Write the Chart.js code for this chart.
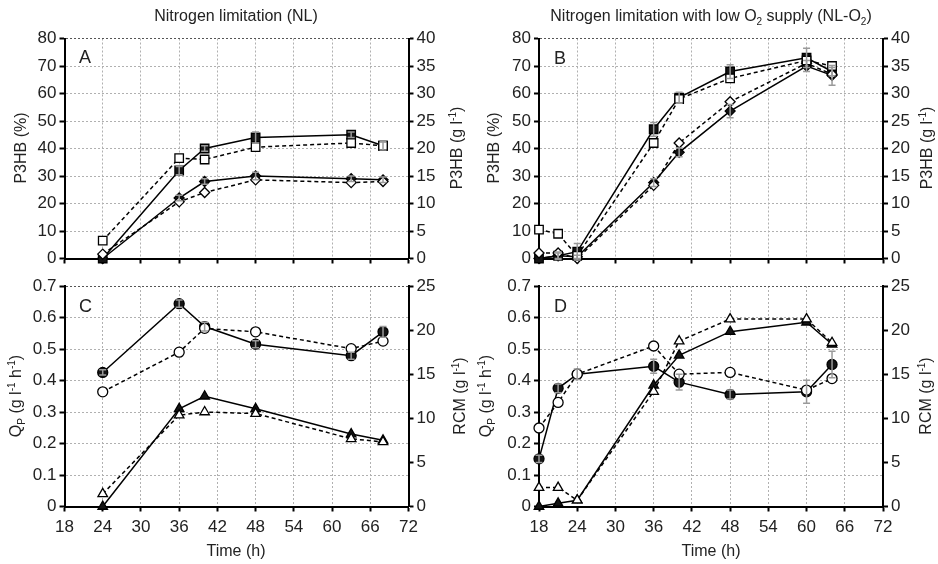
<!DOCTYPE html>
<html>
<head>
<meta charset="UTF-8" />
<title>P3HB production</title>
<script src="https://cdn.jsdelivr.net/npm/chart.js"></script>
<style>
  body { margin: 0; width: 938px; height: 564px; position: relative; background: #fff; overflow: hidden;
         font-family: "Liberation Sans", Arial, sans-serif; color: #222; }
  canvas { position: absolute; }
  .lbl { position: absolute; white-space: nowrap; font-size: 16px; line-height: 18px; transform: translate(-50%, -50%); }
  .rot { transform: translate(-50%, -50%) rotate(-90deg); }
  .tag { position: absolute; font-size: 18px; transform: translate(0, -50%); }
  sub, sup { font-size: 10px; line-height: 0; }
</style>
</head>
<body>
<canvas id="chartA" width="469" height="272" style="left:0;top:0"></canvas>
<canvas id="chartB" width="469" height="272" style="left:469px;top:0"></canvas>
<canvas id="chartC" width="469" height="292" style="left:0;top:272px"></canvas>
<canvas id="chartD" width="469" height="292" style="left:469px;top:272px"></canvas>

<div class="lbl" style="left:236px;top:16px">Nitrogen limitation (NL)</div>
<div class="lbl" style="left:711px;top:16px">Nitrogen limitation with low O<sub>2</sub> supply (NL-O<sub>2</sub>)</div>

<div class="lbl rot" style="left:21px;top:148px">P3HB (%)</div>
<div class="lbl rot" style="left:457px;top:148px">P3HB (g l<sup>-1</sup>)</div>
<div class="lbl rot" style="left:494px;top:148px">P3HB (%)</div>
<div class="lbl rot" style="left:927px;top:148px">P3HB (g l<sup>-1</sup>)</div>
<div class="lbl rot" style="left:16px;top:396px">Q<sub>P</sub> (g l<sup>-1</sup> h<sup>-1</sup>)</div>
<div class="lbl rot" style="left:460px;top:396px">RCM (g l<sup>-1</sup>)</div>
<div class="lbl rot" style="left:486px;top:396px">Q<sub>P</sub> (g l<sup>-1</sup> h<sup>-1</sup>)</div>
<div class="lbl rot" style="left:926px;top:396px">RCM (g l<sup>-1</sup>)</div>

<div class="lbl" style="left:236px;top:551px">Time (h)</div>
<div class="lbl" style="left:711px;top:551px">Time (h)</div>

<div class="tag" style="left:79px;top:57px">A</div>
<div class="tag" style="left:554px;top:58px">B</div>
<div class="tag" style="left:79px;top:306px">C</div>
<div class="tag" style="left:554px;top:306px">D</div>

<script>
  // sampling times (h)
  const timeNL = [24, 36, 40, 48, 63, 68];
  const timeLowO2 = [18, 21, 24, 36, 40, 48, 60, 64];

  // A: nitrogen limitation, P3HB content (%) and concentration (g/l)
  const nlContentFilled = [0, 32, 40, 44, 45, 41];
  const nlContentOpen = [6.5, 36.5, 36, 40.5, 42, 41];
  const nlContentErr = [0, 1.5, 1, 2, 1, 1.5];
  const nlConcFilled = [0, 11, 14, 15, 14.5, 14.3];
  const nlConcOpen = [0.8, 10.3, 12, 14.3, 13.8, 14];
  const nlConcErr = [0, 0.5, 0.5, 0.7, 0.5, 0.5];

  // B: nitrogen limitation with low O2 supply
  const o2ContentFilled = [0, 1, 2.5, 47, 58.5, 68, 73, 68];
  const o2ContentOpen = [10.5, 9, 1, 42, 58, 65.5, 72, 70];
  const o2ContentErr = [0, 1, 3, 2.5, 2, 2.5, 3.5, 1.5];
  const o2ConcFilled = [0, 0.5, 0.3, 13.8, 19.3, 26.8, 35, 33.3];
  const o2ConcOpen = [1, 1, 0, 13.3, 21, 28.5, 35.5, 33.5];
  const o2ConcErr = [0, 0.7, 0.3, 0.7, 0.8, 1.2, 1, 1.8];

  // C: nitrogen limitation, Qp (g/l/h) and RCM (g/l)
  const nlQpFilled = [0, 0.31, 0.35, 0.31, 0.23, 0.21];
  const nlQpOpen = [0.04, 0.29, 0.30, 0.295, 0.215, 0.205];
  const nlRcmFilled = [15.2, 23.0, 20.4, 18.4, 17.1, 19.8];
  const nlRcmOpen = [13.0, 17.5, 20.2, 19.8, 17.9, 18.75];
  const nlRcmErr = [0.3, 0.4, 0.5, 0.4, 0.4, 0.6];

  // D: low O2 supply, Qp (g/l/h) and RCM (g/l)
  const o2QpFilled = [0, 0.01, 0.02, 0.385, 0.48, 0.555, 0.585, 0.515];
  const o2QpOpen = [0.06, 0.06, 0.02, 0.365, 0.525, 0.595, 0.595, 0.52];
  const o2RcmFilled = [5.4, 13.4, 15.0, 15.9, 14.1, 12.7, 13.0, 16.1];
  const o2RcmOpen = [8.9, 11.8, 15.0, 18.2, 15.0, 15.2, 13.2, 14.5];
  const o2RcmErr = [0.4, 0.5, 0.6, 0.8, 0.9, 0.5, 1.3, 1.5];

  const tickFont = { family: '"Liberation Sans", Arial, sans-serif', size: 17 };

  const errorBars = {
    id: 'errorBars',
    afterDatasetsDraw(chart) {
      const ctx = chart.ctx;
      chart.data.datasets.forEach((ds) => {
        if (!ds.errors) return;
        const xs = chart.scales.x, ys = chart.scales[ds.yAxisID];
        ctx.save();
        ctx.strokeStyle = '#9a9a9a';
        ctx.lineWidth = 1.5;
        ds.data.forEach((p, i) => {
          const e = ds.errors[i];
          if (!e) return;
          const px = xs.getPixelForValue(p.x);
          const top = ys.getPixelForValue(p.y + e), bot = ys.getPixelForValue(p.y - e);
          ctx.beginPath();
          ctx.moveTo(px, top); ctx.lineTo(px, bot);
          ctx.moveTo(px - 3.5, top); ctx.lineTo(px + 3.5, top);
          ctx.moveTo(px - 3.5, bot); ctx.lineTo(px + 3.5, bot);
          ctx.stroke();
        });
        ctx.restore();
      });
    }
  };

  function series(xs, ys, axis, shape, filled, errors) {
    const radius = { rect: 6, rectRot: 5, circle: 5, triangle: 5.5 }[shape];
    return {
      data: xs.map((x, i) => ({ x: x, y: ys[i] })),
      yAxisID: axis,
      errors: errors,
      borderColor: '#000',
      borderWidth: 1.5,
      borderDash: filled ? [] : [4, 3],
      pointStyle: shape,
      pointRadius: radius,
      pointBorderWidth: 1.3,
      pointBorderColor: '#000',
      pointBackgroundColor: filled ? '#151515' : '#fff',
      tension: 0,
      clip: false
    };
  }

  function yScale(pos, max, step, width, grid) {
    return {
      type: 'linear', position: pos, min: 0, max: max,
      ticks: { stepSize: step, color: '#222', font: tickFont, padding: 3 },
      grid: {
        drawOnChartArea: grid,
        color: (c) => (c.tick && c.tick.value === max ? '#555' : '#b0b0b0'),
        lineWidth: 1, tickLength: 5, tickColor: '#000', tickWidth: 2
      },
      border: { color: '#000', width: 2, dash: [2, 2] },
      afterFit: (s) => { s.width = width; }
    };
  }

  function makePanel(id, datasets, p) {
    new Chart(document.getElementById(id), {
      type: 'line',
      data: { datasets: datasets },
      plugins: [errorBars],
      options: {
        responsive: false,
        animation: false,
        layout: { padding: { top: p.padTop, left: 0, right: 0, bottom: 0 } },
        plugins: { legend: { display: false }, tooltip: { enabled: false } },
        scales: {
          x: {
            type: 'linear', min: 18, max: 72,
            ticks: { stepSize: 6, display: p.showX, color: '#222', font: tickFont, padding: 6 },
            grid: { color: '#b0b0b0', lineWidth: 1, tickLength: 5, tickColor: '#000', tickWidth: 2 },
            border: { color: '#000', width: 2, dash: [2, 2] },
            afterFit: (s) => { s.height = p.xHeight; }
          },
          y: yScale('left', p.yMax, p.yStep, p.leftW, true),
          y2: yScale('right', p.y2Max, p.y2Step, p.rightW, false)
        }
      }
    });
  }

  makePanel('chartA', [
    series(timeNL, nlContentOpen, 'y', 'rect', false),
    series(timeNL, nlConcOpen, 'y2', 'rectRot', false),
    series(timeNL, nlContentFilled, 'y', 'rect', true, nlContentErr),
    series(timeNL, nlConcFilled, 'y2', 'rectRot', true, nlConcErr)
  ], { padTop: 38.5, xHeight: 13.5, showX: false, leftW: 64.5, rightW: 60.5, yMax: 80, yStep: 10, y2Max: 40, y2Step: 5 });

  makePanel('chartB', [
    series(timeLowO2, o2ContentOpen, 'y', 'rect', false),
    series(timeLowO2, o2ConcOpen, 'y2', 'rectRot', false),
    series(timeLowO2, o2ContentFilled, 'y', 'rect', true, o2ContentErr),
    series(timeLowO2, o2ConcFilled, 'y2', 'rectRot', true, o2ConcErr)
  ], { padTop: 38.5, xHeight: 13.5, showX: false, leftW: 70, rightW: 55, yMax: 80, yStep: 10, y2Max: 40, y2Step: 5 });

  makePanel('chartC', [
    series(timeNL, nlQpOpen, 'y', 'triangle', false),
    series(timeNL, nlRcmOpen, 'y2', 'circle', false),
    series(timeNL, nlQpFilled, 'y', 'triangle', true),
    series(timeNL, nlRcmFilled, 'y2', 'circle', true, nlRcmErr)
  ], { padTop: 14, xHeight: 57.5, showX: true, leftW: 64.5, rightW: 60.5, yMax: 0.7, yStep: 0.1, y2Max: 25, y2Step: 5 });

  makePanel('chartD', [
    series(timeLowO2, o2QpOpen, 'y', 'triangle', false),
    series(timeLowO2, o2RcmOpen, 'y2', 'circle', false),
    series(timeLowO2, o2QpFilled, 'y', 'triangle', true),
    series(timeLowO2, o2RcmFilled, 'y2', 'circle', true, o2RcmErr)
  ], { padTop: 14, xHeight: 57.5, showX: true, leftW: 70, rightW: 55, yMax: 0.7, yStep: 0.1, y2Max: 25, y2Step: 5 });
</script>
</body>
</html>
